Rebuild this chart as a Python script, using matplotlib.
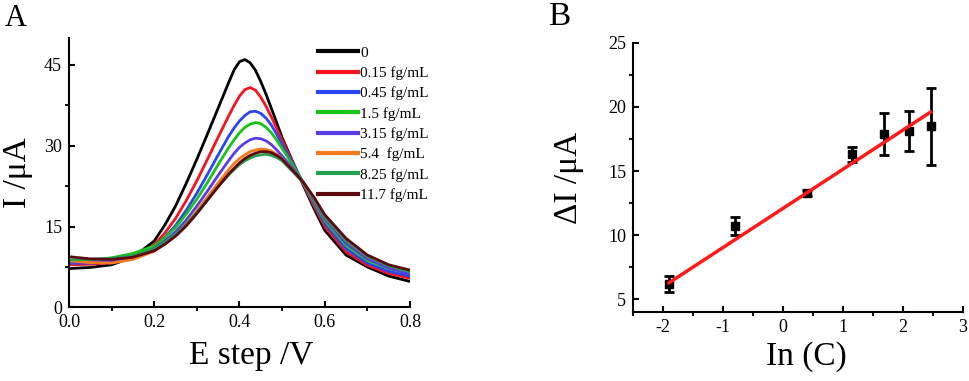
import matplotlib
matplotlib.use("Agg")
import matplotlib.pyplot as plt
from matplotlib.ticker import MultipleLocator, FormatStrFormatter

plt.rcParams['font.family'] = ['Liberation Serif', 'DejaVu Serif']
plt.rcParams['axes.unicode_minus'] = False

# ---------------- Panel A data ----------------
e_step = [0, 0.05, 0.1, 0.15, 0.2, 0.225, 0.25, 0.275, 0.3, 0.325, 0.35, 0.375,
          0.3875, 0.4, 0.4125, 0.425, 0.4375, 0.45, 0.4625, 0.475, 0.4875, 0.5,
          0.525, 0.55, 0.575, 0.6, 0.65, 0.7, 0.75, 0.8]

labels = ["0", "0.15 fg/mL", "0.45 fg/mL", "1.5 fg/mL", "3.15 fg/mL",
          "5.4  fg/mL", "8.25 fg/mL", "11.7 fg/mL"]
colors = ["#000000", "#f5141e", "#2b45f0", "#18c418", "#5a3ce6",
          "#f57a1e", "#24a04e", "#5c0a10"]

i_0 = [7.2, 7.4, 7.9, 9.3, 12.3, 15.3, 18.8, 23.0, 27.5, 32.2, 37.0, 41.8,
       44.1, 45.6, 46.0, 45.4, 44.0, 41.9, 39.5, 36.9, 34.2, 31.5,
       27.0, 22.6, 18.3, 14.3, 9.7, 7.5, 5.8, 4.8]
i_015 = [7.9, 8.0, 8.3, 9.3, 11.6, 13.8, 16.5, 19.8, 23.5, 27.5, 31.6, 35.6,
         37.5, 39.2, 40.4, 40.8, 40.3, 39.0, 37.3, 35.3, 33.2, 31.0,
         26.9, 22.8, 18.8, 15.0, 10.3, 7.8, 6.3, 5.4]
i_045 = [8.2, 8.2, 8.4, 9.2, 11.2, 13.0, 15.2, 18.0, 21.2, 24.7, 28.3, 31.8,
         33.3, 34.6, 35.6, 36.3, 36.4, 36.0, 35.1, 33.8, 32.1, 30.2,
         26.7, 23.0, 19.3, 15.6, 10.9, 8.2, 6.7, 5.8]
i_15 = [8.6, 8.7, 9.2, 10.0, 11.4, 12.9, 14.8, 17.3, 20.1, 23.2, 26.5, 29.7,
        31.1, 32.4, 33.4, 34.0, 34.3, 34.1, 33.4, 32.4, 31.0, 29.5,
        26.4, 23.1, 19.6, 16.1, 11.5, 8.7, 7.2, 6.3]
i_315 = [8.4, 8.4, 8.6, 9.3, 10.9, 12.3, 14.0, 16.2, 18.8, 21.6, 24.5, 27.3,
         28.6, 29.7, 30.5, 31.1, 31.4, 31.3, 30.9, 30.2, 29.2, 28.1,
         25.8, 23.1, 19.9, 16.5, 11.9, 9.0, 7.3, 6.2]
i_54 = [8.6, 8.3, 8.2, 8.9, 10.4, 11.8, 13.4, 15.5, 17.9, 20.5, 23.1, 25.6,
        26.7, 27.6, 28.3, 28.9, 29.2, 29.4, 29.3, 29.0, 28.4, 27.6,
        25.4, 23.1, 20.2, 16.9, 12.5, 9.5, 7.8, 6.9]
i_825 = [8.8, 8.9, 9.1, 9.6, 10.8, 12.0, 13.5, 15.4, 17.6, 20.0, 22.4, 24.6,
         25.6, 26.5, 27.2, 27.7, 28.1, 28.3, 28.4, 28.2, 27.8, 27.2,
         25.2, 23.1, 20.2, 16.9, 12.5, 9.5, 7.7, 6.6]
i_117 = [9.4, 9.0, 8.9, 9.3, 10.5, 11.7, 13.2, 15.1, 17.4, 19.9, 22.4, 24.8,
         25.8, 26.8, 27.6, 28.2, 28.6, 28.9, 28.9, 28.7, 28.2, 27.5,
         25.4, 23.2, 20.4, 17.2, 12.8, 9.7, 7.9, 6.9]
currents = [i_0, i_015, i_045, i_15, i_315, i_54, i_825, i_117]

# ---------------- Panel B data ----------------
ln_c = [-1.90, -0.80, 0.40, 1.15, 1.68, 2.10, 2.46]
delta_i = [6.2, 10.7, 13.3, 16.3, 17.9, 18.1, 18.5]
delta_err = [0.65, 0.7, 0.25, 0.6, 1.65, 1.55, 3.0]
fit_x = [-1.90, 2.46]
fit_y = [6.3, 19.6]

fig = plt.figure(figsize=(9.69, 3.81), dpi=100)


def style_axes(ax, lab_size):
    for s in ['top', 'right']:
        ax.spines[s].set_visible(False)
    for s in ['left', 'bottom']:
        ax.spines[s].set_linewidth(1.5)
    ax.tick_params(which='major', direction='in', length=4, width=1.5,
                   labelsize=lab_size)
    ax.tick_params(axis='x', which='major', pad=5)
    ax.tick_params(axis='y', which='major', pad=5)
    ax.tick_params(which='minor', direction='out', length=3, width=1.3)


# Panel A
axA = fig.add_axes([0.0712, 0.1934, 0.3519, 0.7069])
for y, c, lab in zip(currents, colors, labels):
    axA.plot(e_step, y, color=c, lw=2.0, label=lab)
axA.set_xlim(0, 0.8)
axA.set_ylim(0, 50)
axA.xaxis.set_major_locator(MultipleLocator(0.2))
axA.xaxis.set_minor_locator(MultipleLocator(0.1))
axA.yaxis.set_major_locator(MultipleLocator(15))
axA.yaxis.set_minor_locator(MultipleLocator(7.5))
axA.xaxis.set_major_formatter(FormatStrFormatter('%.1f'))
style_axes(axA, 13)
axA.set_xlabel("E step /V", fontsize=24)
axA.xaxis.set_label_coords(0.534, -0.125)
axA.set_ylabel("I /μA", fontsize=24, labelpad=8)
leg = axA.legend(loc='upper left', bbox_to_anchor=(318 / 969, 1 - 46 / 381),
                 bbox_transform=fig.transFigure, frameon=False, fontsize=11,
                 handlelength=2.6, handletextpad=0.15, labelspacing=0.43,
                 borderpad=0, borderaxespad=0)
for h in leg.get_lines():
    h.set_linewidth(3)
fig.text(5 / 969, 1 - 18 / 381, "A", fontsize=22, va='center', ha='left')

# Panel B
axB = fig.add_axes([0.6533, 0.1803, 0.3405, 0.7076])
axB.errorbar(ln_c, delta_i, yerr=delta_err, fmt='s', color='black', ms=5.5,
             ecolor='black', elinewidth=2, capsize=3.5, capthick=2, zorder=3)
axB.plot(fit_x, fit_y, color='#ff1a1a', lw=2.5, zorder=4)
axB.set_xlim(-2.5, 3)
axB.set_ylim(4, 25)
axB.xaxis.set_major_locator(MultipleLocator(1))
axB.xaxis.set_minor_locator(MultipleLocator(0.5))
axB.yaxis.set_major_locator(MultipleLocator(5))
axB.yaxis.set_minor_locator(MultipleLocator(2.5))
style_axes(axB, 13)
axB.set_xlabel("In (C)", fontsize=24)
axB.xaxis.set_label_coords(0.524, -0.106)
axB.set_ylabel("ΔI /μA", fontsize=24, labelpad=17)
fig.text(548 / 969, 1 - 17 / 381, "B", fontsize=24, va='center', ha='left')

fig.savefig("out.png", dpi=100)
